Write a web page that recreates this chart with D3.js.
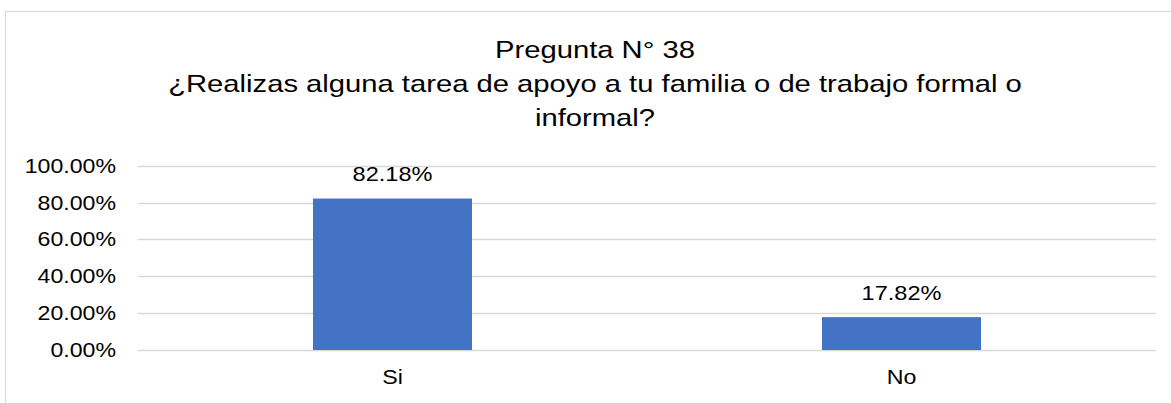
<!DOCTYPE html>
<html>
<head>
<meta charset="utf-8">
<script src="https://cdn.jsdelivr.net/npm/d3@7"></script>
<style>
  html, body { margin: 0; padding: 0; background: #ffffff; }
  svg { display: block; }
  text { font-family: "Liberation Sans", Arial, sans-serif; fill: #000000; }
</style>
</head>
<body>
<svg id="chart" width="1171" height="403"></svg>
<script>
// Survey answers for question 38
const categories = ["Si", "No"];
const shares = [0.8218, 0.1782];
const yTicks = [0, 0.2, 0.4, 0.6, 0.8, 1.0];
const titleLines = [
  "Pregunta N° 38",
  "¿Realizas alguna tarea de apoyo a tu familia o de trabajo formal o",
  "informal?"
];

const svg = d3.select("#chart");
const plot = { left: 138, right: 1156, top: 165.7, bottom: 350 };

// Outer frame of the chart area
svg.append("rect")
  .attr("x", 5.5).attr("y", 11.5)
  .attr("width", 1200).attr("height", 420)
  .attr("fill", "none")
  .attr("stroke", "#d9d9d9")
  .attr("stroke-width", 1.2);

// Title
svg.append("g").selectAll("text")
  .data(titleLines)
  .join("text")
  .attr("transform", (d, i) => `translate(595,${57.5 + i * 34}) scale(1.217,1)`)
  .attr("text-anchor", "middle")
  .style("font-size", "24px")
  .text(d => d);

const x = d3.scaleBand()
  .domain(categories)
  .range([plot.left, plot.right])
  .paddingInner(0)
  .paddingOuter(0);

const y = d3.scaleLinear()
  .domain([0, 1])
  .range([plot.bottom, plot.top]);

const barFrac = 0.3124;
const barW = x.bandwidth() * barFrac;

// Horizontal gridlines
svg.append("g").selectAll("line")
  .data(yTicks)
  .join("line")
  .attr("x1", plot.left).attr("x2", plot.right)
  .attr("y1", d => Math.round(y(d)) + 0.5)
  .attr("y2", d => Math.round(y(d)) + 0.5)
  .attr("stroke", "#d9d9d9")
  .attr("stroke-width", 1.3);

// Value axis labels
const pct = d3.format(".2%");
svg.append("g").selectAll("text")
  .data(yTicks)
  .join("text")
  .attr("transform", d => `translate(116,${y(d) + 7}) scale(1.186,1)`)
  .attr("text-anchor", "end")
  .style("font-size", "19.5px")
  .text(d => pct(d));

// Bars
const data = categories.map((c, i) => ({ cat: c, value: shares[i] }));
svg.append("g").selectAll("rect")
  .data(data)
  .join("rect")
  .attr("x", d => x(d.cat) + (x.bandwidth() - barW) / 2)
  .attr("y", d => y(d.value))
  .attr("width", barW)
  .attr("height", d => y(0) - y(d.value))
  .attr("fill", "#4472c4");

// Data labels above bars
svg.append("g").selectAll("text")
  .data(data)
  .join("text")
  .attr("transform", d => `translate(${x(d.cat) + x.bandwidth() / 2},${y(d.value) - 17.5}) scale(1.178,1)`)
  .attr("text-anchor", "middle")
  .style("font-size", "20px")
  .text(d => pct(d.value));

// Category labels
svg.append("g").selectAll("text")
  .data(categories)
  .join("text")
  .attr("transform", d => `translate(${x(d) + x.bandwidth() / 2},384) scale(1.16,1)`)
  .attr("text-anchor", "middle")
  .style("font-size", "20px")
  .text(d => d);
</script>
</body>
</html>
